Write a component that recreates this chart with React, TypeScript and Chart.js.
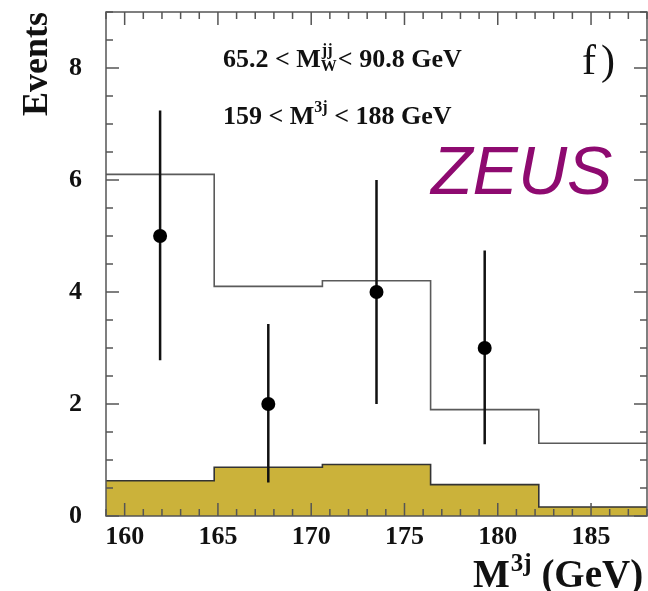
import React, { useEffect, useRef } from "react";
import { Chart, registerables } from "chart.js";

Chart.register(...registerables);

const binEdges = [159, 164.8, 170.6, 176.4, 182.2, 188];
const mcTotal = [6.1, 4.1, 4.2, 1.9, 1.3];
const mcBackground = [0.63, 0.87, 0.92, 0.56, 0.16];
const dataX = [161.9, 167.7, 173.5, 179.3];
const dataY = [5, 2, 4, 3];
const errLow = [2.78, 0.6, 2.0, 1.28];
const errHigh = [7.24, 3.43, 6.0, 4.74];
const xTicks = [160, 165, 170, 175, 180, 185];
const yTicks = [0, 2, 4, 6, 8];

const SERIF = '"Liberation Serif", "Times New Roman", serif';

function stepPoints(edges: number[], vals: number[]) {
  const pts = vals.map((v, i) => ({ x: edges[i], y: v }));
  pts.push({ x: edges[edges.length - 1], y: vals[vals.length - 1] });
  return pts;
}

const errorBarPlugin = {
  id: "errorBars",
  afterDatasetsDraw(chart: any) {
    const { ctx, scales } = chart;
    const x = scales.x, y = scales.y;
    ctx.save();
    ctx.strokeStyle = "#111";
    ctx.lineWidth = 2.5;
    ctx.beginPath();
    for (let i = 0; i < dataX.length; i++) {
      const px = x.getPixelForValue(dataX[i]);
      ctx.moveTo(px, y.getPixelForValue(errLow[i]));
      ctx.lineTo(px, y.getPixelForValue(errHigh[i]));
    }
    ctx.stroke();
    ctx.fillStyle = "#000";
    for (let i = 0; i < dataX.length; i++) {
      ctx.beginPath();
      ctx.arc(x.getPixelForValue(dataX[i]), y.getPixelForValue(dataY[i]), 7, 0, Math.PI * 2);
      ctx.fill();
    }
    ctx.restore();
  },
};

const framePlugin = {
  id: "frame",
  afterDraw(chart: any) {
    const { ctx, chartArea: a, scales } = chart;
    const x = scales.x, y = scales.y;
    ctx.save();
    ctx.strokeStyle = "#555";
    ctx.lineWidth = 1.5;
    ctx.strokeRect(a.left, a.top, a.right - a.left, a.bottom - a.top);
    ctx.beginPath();
    for (let v = 159; v <= 188; v++) {
      const px = x.getPixelForValue(v);
      const len = v % 5 === 0 ? 13 : 7;
      ctx.moveTo(px, a.bottom);
      ctx.lineTo(px, a.bottom - len);
      ctx.moveTo(px, a.top);
      ctx.lineTo(px, a.top + len);
    }
    for (let v = 0; v <= 9; v += 0.5) {
      const py = y.getPixelForValue(v);
      const len = v % 2 === 0 ? 13 : 7;
      ctx.moveTo(a.left, py);
      ctx.lineTo(a.left + len, py);
      ctx.moveTo(a.right, py);
      ctx.lineTo(a.right - len, py);
    }
    ctx.stroke();
    ctx.restore();

    // texts
    ctx.save();
    ctx.fillStyle = "#111";
    ctx.textBaseline = "alphabetic";
    ctx.textAlign = "left";

    // line 1
    let cx = 223;
    let by = 67;
    ctx.font = `bold 26px ${SERIF}`;
    ctx.fillText("65.2 < M", cx, by);
    cx += ctx.measureText("65.2 < M").width;
    ctx.font = `bold 16px ${SERIF}`;
    ctx.fillText("jj", cx + 1, by - 12);
    const wjj = ctx.measureText("jj").width;
    ctx.fillText("W", cx, by + 4);
    const wW = ctx.measureText("W").width;
    cx += Math.max(wjj, wW) + 1;
    ctx.font = `bold 26px ${SERIF}`;
    ctx.fillText("< 90.8 GeV", cx, by);

    // line 2
    cx = 223;
    by = 124;
    ctx.font = `bold 26px ${SERIF}`;
    ctx.fillText("159 < M", cx, by);
    cx += ctx.measureText("159 < M").width;
    ctx.font = `bold 16px ${SERIF}`;
    ctx.fillText("3j", cx, by - 12);
    cx += ctx.measureText("3j").width;
    ctx.font = `bold 26px ${SERIF}`;
    ctx.fillText(" < 188 GeV", cx, by);

    // f)
    ctx.font = `42px ${SERIF}`;
    ctx.fillText("f", 582, 74);
    ctx.fillText(")", 601, 74);

    // ZEUS
    ctx.fillStyle = "#8e0a70";
    ctx.font = `italic 68px "Liberation Sans", Arial, sans-serif`;
    ctx.fillText("ZEUS", 431, 194);

    // x title
    ctx.fillStyle = "#111";
    cx = 473;
    by = 587;
    ctx.font = `bold 39px ${SERIF}`;
    ctx.fillText("M", cx, by);
    cx += ctx.measureText("M").width;
    ctx.font = `bold 25px ${SERIF}`;
    ctx.fillText("3j", cx + 1, by - 16);
    cx += ctx.measureText("3j").width + 1;
    ctx.font = `bold 39px ${SERIF}`;
    ctx.fillText(" (GeV)", cx, by);

    // y title
    ctx.translate(47, 64);
    ctx.rotate(-Math.PI / 2);
    ctx.textAlign = "center";
    ctx.font = `bold 36px ${SERIF}`;
    ctx.fillText("Events", 0, 0);
    ctx.restore();
  },
};

export default function App() {
  const ref = useRef<HTMLCanvasElement | null>(null);
  useEffect(() => {
    if (!ref.current) return;
    const chart = new Chart(ref.current, {
      type: "line",
      data: {
        datasets: [
          {
            label: "total",
            data: stepPoints(binEdges, mcTotal),
            stepped: "before",
            fill: false,
            borderColor: "#5a5a5a",
            borderWidth: 1.6,
            pointRadius: 0,
            order: 1,
          } as any,
          {
            label: "background",
            data: stepPoints(binEdges, mcBackground),
            stepped: "before",
            fill: "origin",
            backgroundColor: "#cbb23a",
            borderColor: "#333",
            borderWidth: 1.6,
            pointRadius: 0,
            order: 2,
          } as any,
          {
            label: "data",
            data: dataX.map((x, i) => ({ x, y: dataY[i] })),
            showLine: false,
            pointRadius: 0,
            order: 0,
          } as any,
        ],
      },
      options: {
        animation: false,
        responsive: false,
        maintainAspectRatio: false,
        layout: { padding: { top: 12, right: 1, left: 0, bottom: 0 } },
        plugins: { legend: { display: false }, tooltip: { enabled: false } },
        scales: {
          x: {
            type: "linear",
            min: 159,
            max: 188,
            grid: { display: false, drawTicks: false },
            border: { display: false },
            afterBuildTicks: (s: any) => {
              s.ticks = xTicks.map((v) => ({ value: v }));
            },
            afterFit: (s: any) => {
              s.height = 75;
              s.paddingLeft = 0;
              s.paddingRight = 0;
            },
            ticks: {
              font: { family: SERIF, size: 26, weight: "bold" },
              color: "#111",
              padding: 6,
              maxRotation: 0,
              autoSkip: false,
              callback: (v: any) => String(v),
            },
          },
          y: {
            type: "linear",
            min: 0,
            max: 9,
            grid: { display: false, drawTicks: false },
            border: { display: false },
            afterBuildTicks: (s: any) => {
              s.ticks = yTicks.map((v) => ({ value: v }));
            },
            afterFit: (s: any) => {
              s.width = 106;
              s.paddingTop = 0;
              s.paddingBottom = 0;
            },
            ticks: {
              font: { family: SERIF, size: 26, weight: "bold" },
              color: "#111",
              padding: 24,
              autoSkip: false,
              callback: (v: any) => String(v),
            },
          },
        },
      } as any,
      plugins: [errorBarPlugin, framePlugin],
    });
    return () => chart.destroy();
  }, []);
  return (
    <div style={{ position: "absolute", left: 0, top: 0, width: 648, height: 591, background: "#fff" }}>
      <canvas ref={ref} width={648} height={591} style={{ display: "block" }} />
    </div>
  );
}
